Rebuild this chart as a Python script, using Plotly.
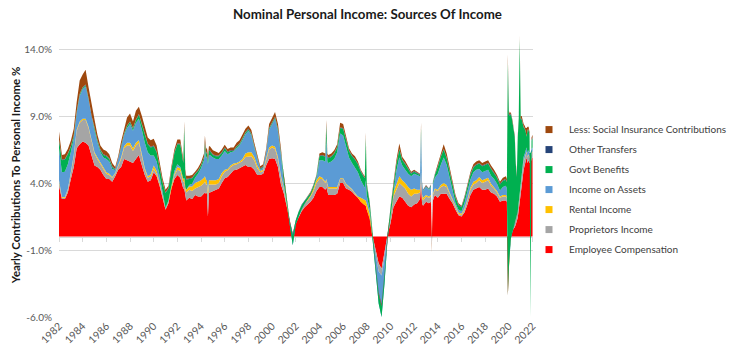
import plotly.graph_objects as go

# ---------------- data (percentage points) ----------------
dates = [
    "1982-01", "1982-04", "1982-07", "1982-10",
    "1983-01", "1983-04", "1983-07", "1983-10",
    "1984-01", "1984-04", "1984-07", "1984-10",
    "1985-01", "1985-04", "1985-07", "1985-10",
    "1986-01", "1986-04", "1986-07", "1986-10",
    "1987-01", "1987-04", "1987-07", "1987-10",
    "1988-01", "1988-04", "1988-07", "1988-10",
    "1989-01", "1989-04", "1989-07", "1989-10",
    "1990-01", "1990-04", "1990-07", "1990-10",
    "1991-01", "1991-04", "1991-07", "1991-10",
    "1992-01", "1992-04", "1992-07", "1992-08", "1992-09", "1992-10",
    "1993-01", "1993-04", "1993-07", "1993-10",
    "1994-01", "1994-04", "1994-05", "1994-06", "1994-07", "1994-08", "1994-09", "1994-10",
    "1995-01", "1995-04", "1995-07", "1995-10",
    "1996-01", "1996-04", "1996-07", "1996-10",
    "1997-01", "1997-04", "1997-07", "1997-10",
    "1998-01", "1998-04", "1998-07", "1998-10",
    "1999-01", "1999-04", "1999-07", "1999-10",
    "2000-01", "2000-04", "2000-07", "2000-10",
    "2001-01", "2001-04", "2001-07", "2001-10",
    "2002-01", "2002-04", "2002-07", "2002-10",
    "2003-01", "2003-04", "2003-07", "2003-10",
    "2004-01", "2004-04", "2004-07", "2004-08", "2004-09", "2004-10",
    "2005-01", "2005-04", "2005-07", "2005-10",
    "2006-01", "2006-04", "2006-07", "2006-10",
    "2007-01", "2007-04", "2007-07", "2007-10", "2007-11", "2007-12",
    "2008-01", "2008-04", "2008-07", "2008-10",
    "2009-01", "2009-04", "2009-07", "2009-10",
    "2010-01", "2010-04", "2010-07", "2010-10",
    "2011-01", "2011-04", "2011-07", "2011-10",
    "2012-01", "2012-04", "2012-07", "2012-08", "2012-09", "2012-10",
    "2013-01", "2013-04", "2013-06", "2013-07", "2013-08", "2013-10",
    "2014-01", "2014-04", "2014-07", "2014-10",
    "2015-01", "2015-04", "2015-07", "2015-10",
    "2016-01", "2016-04", "2016-07", "2016-10",
    "2017-01", "2017-04", "2017-07", "2017-10",
    "2018-01", "2018-04", "2018-07", "2018-10",
    "2019-01", "2019-04", "2019-07", "2019-10", "2019-11", "2019-12",
    "2020-01", "2020-02", "2020-03", "2020-04", "2020-05", "2020-06",
    "2020-07", "2020-08", "2020-09", "2020-10", "2020-11", "2020-12",
    "2021-01", "2021-02", "2021-03", "2021-04", "2021-05", "2021-06",
    "2021-07", "2021-08", "2021-09", "2021-10", "2021-11", "2021-12",
    "2022-01",
]

employee_comp = [
    3.8, 2.8, 2.8, 3.3,
    4.3, 5.2, 6.6, 6.9,
    7.1, 7.0, 6.8, 6.0,
    5.3, 5.2, 5.0, 4.6,
    4.3, 4.3, 4.1, 4.5,
    5.0, 5.2, 5.8, 5.7,
    5.6, 5.5, 5.8, 6.1,
    5.3, 4.6, 4.1, 4.2,
    4.8, 4.5, 3.8, 2.9,
    2.0, 2.5, 3.6, 4.3,
    4.6, 4.4, 3.6, 3.6, 3.0, 2.7,
    2.9, 2.8, 3.1, 3.0,
    3.0, 3.2, 3.3, 3.2, 3.3, 1.5, 3.3, 3.3,
    3.4, 3.5, 3.6, 4.0,
    4.35, 4.45, 4.7, 4.95,
    5.0, 5.1, 5.2, 5.35,
    5.2, 5.2, 5.0, 4.6,
    4.6, 4.7, 5.3, 5.8,
    5.85, 5.8, 5.2, 3.9,
    3.2, 2.2, 1.0, 0.2,
    1.0, 1.5, 1.9, 2.2,
    2.4, 2.6, 2.9, 3.4,
    3.7, 3.7, 3.5, 3.7, 3.4, 3.1,
    3.1, 3.1, 3.2, 4.0,
    4.0, 3.6, 3.5, 3.35,
    3.1, 2.9, 2.6, 2.4, 2.35, 2.3,
    2.0, 1.4, 0.0, -1.0,
    -2.0, -2.4, -1.2, 0.1,
    1.0, 2.2, 2.6, 3.0,
    2.9, 2.6, 2.3, 2.2,
    2.4, 2.5, 2.8, 4.0, 2.5, 2.3,
    2.6, 2.5, 2.6, 0.0, 2.7, 3.1,
    2.9, 3.2, 3.2, 3.2,
    2.8, 2.5, 2.0, 1.6,
    1.5, 1.8, 2.4, 3.1,
    3.5, 3.6, 3.7, 3.5,
    3.5, 3.6, 3.3, 3.2,
    3.0, 2.6, 2.7, 2.7, 2.6, -4.4,
    -1.5, -0.5, 0.0, 0.3, 0.5, 0.6, 0.7, 0.9, 1.1, 1.4, 2.0, 2.6,
    3.4, 4.0, 4.5, 5.0, 5.3, 5.6, 5.9, 5.5, 5.7, 5.5, 5.5, 5.8,
    5.9,
]

proprietors = [
    0.3, 0.1, 0.1, 0.2,
    0.4, 0.8, 1.3, 1.6,
    1.6, 1.7, 1.3, 1.1,
    0.9, 0.6, 0.4, 0.4,
    0.4, 0.3, 0.3, 0.2,
    0.3, 0.6, 0.8, 1.1,
    1.2, 0.9, 1.0, 0.9,
    0.7, 0.4, 0.3, 0.3,
    0.25, 0.2, 0.1, 0.05,
    0.0, 0.05, 0.1, 0.3,
    0.4, 0.5, 0.5, 0.5, 0.55, 0.6,
    0.6, 0.6, 0.5, 0.7,
    0.8, 0.8, 0.8, 0.7, 0.6, 1.6, 0.6, 0.6,
    0.5, 0.4, 0.4, 0.5,
    0.5, 0.5, 0.5, 0.4,
    0.4, 0.4, 0.45, 0.6,
    0.8, 0.8, 0.7, 0.5,
    0.2, 0.2, 0.4, 0.7,
    0.8, 0.75, 0.6, 0.5,
    0.3, 0.1, 0.0, 0.0,
    0.1, 0.2, 0.2, 0.3,
    0.3, 0.4, 0.5, 0.6,
    0.6, 0.6, 0.5, 0.5, 0.5, 0.5,
    0.5, 0.5, 0.4, 0.3,
    0.3, 0.3, 0.2, 0.15,
    0.1, 0.0, 0.0, 0.0, 0.0, 0.0,
    0.0, -0.1, -0.2, -0.4,
    -0.6, -0.5, -0.4, 0.1,
    0.4, 0.8, 0.9, 1.0,
    0.9, 1.0, 0.9, 0.8,
    0.8, 0.7, 0.5, 0.6, 0.45, 0.4,
    0.4, 0.4, 0.4, -0.3, 0.4, 0.4,
    0.5, 0.5, 0.6, 0.5,
    0.4, 0.2, 0.1, 0.1,
    0.1, 0.2, 0.3, 0.4,
    0.4, 0.4, 0.5, 0.5,
    0.6, 0.6, 0.5, 0.4,
    0.3, 0.3, 0.3, 0.3, 0.3, 0.0,
    -0.5, -0.2, 0.0, 0.1, 0.2, 0.3, 0.3, 0.4, 0.4, 0.5, 0.5, 0.5,
    0.6, 0.6, 0.6, 0.6, 0.5, 0.5, 0.4, 0.4, 0.4, 0.4, 0.4, 0.4,
    0.4,
]

rental = [
    0.1, 0.05, 0.05, 0.05,
    0.1, 0.1, 0.1, 0.1,
    0.1, 0.1, 0.1, 0.1,
    0.1, 0.1, 0.1, 0.1,
    0.1, 0.1, 0.05, 0.05,
    0.05, 0.1, 0.15, 0.2,
    0.2, 0.2, 0.2, 0.2,
    0.15, 0.1, 0.1, 0.15,
    0.25, 0.2, 0.15, 0.1,
    0.05, 0.05, 0.1, 0.1,
    0.2, 0.2, 0.2, 0.2, 0.2, 0.2,
    0.25, 0.35, 0.4, 0.4,
    0.4, 0.4, 0.4, 0.35, 0.3, 0.3, 0.3, 0.3,
    0.3, 0.3, 0.3, 0.25,
    0.15, 0.1, 0.1, 0.1,
    0.1, 0.1, 0.15, 0.25,
    0.3, 0.3, 0.25, 0.2,
    0.1, 0.1, 0.15, 0.15,
    0.15, 0.15, 0.15, 0.15,
    0.1, 0.05, 0.05, 0.05,
    0.1, 0.1, 0.15, 0.15,
    0.15, 0.2, 0.2, 0.2,
    0.2, 0.1, 0.1, 0.1, 0.1, 0.1,
    0.1, 0.1, 0.1, 0.05,
    0.05, 0.05, 0.05, 0.05,
    0.05, 0.1, 0.3, 0.4, 0.4, 0.4,
    0.45, 0.4, 0.1, 0.0,
    0.0, 0.0, 0.0, 0.05,
    0.2, 0.3, 0.4, 0.5,
    0.4, 0.4, 0.5, 0.5,
    0.4, 0.3, 0.2, 0.2, 0.2, 0.2,
    0.1, 0.1, 0.1, 0.0, 0.1, 0.1,
    0.1, 0.15, 0.2, 0.15,
    0.1, 0.1, 0.1, 0.1,
    0.1, 0.1, 0.1, 0.15,
    0.2, 0.2, 0.25, 0.2,
    0.2, 0.2, 0.15, 0.1,
    0.1, 0.1, 0.1, 0.1, 0.1, 0.0,
    0.0, 0.0, 0.05, 0.05, 0.05, 0.05, 0.05, 0.05, 0.05, 0.05, 0.05, 0.05,
    0.05, 0.05, 0.05, 0.05, 0.05, 0.05, 0.05, 0.05, 0.05, 0.05, 0.05, 0.05,
    0.05,
]

income_assets = [
    2.4, 1.85, 1.9, 1.85,
    1.5, 1.2, 1.2, 1.9,
    2.2, 2.4, 2.0, 1.7,
    1.6, 1.1, 0.8, 0.8,
    1.0, 0.9, 0.6, 0.2,
    0.4, 0.7, 0.8, 1.1,
    1.4, 1.3, 1.5, 1.6,
    1.8, 1.9, 1.8, 1.4,
    0.75, 0.7, 0.5, 0.3,
    0.1, 0.1, 0.1, 0.2,
    0.2, 0.1, 0.0, 0.1, 0.0, 0.0,
    0.1, 0.2, 0.4, 0.6,
    0.9, 1.3, 2.0, 1.6, 1.8, 2.0, 1.9, 1.9,
    1.7, 1.6, 1.5, 1.3,
    1.4, 1.1, 1.0, 0.9,
    1.1, 1.2, 1.4, 1.45,
    1.6, 1.25, 0.7, 0.45,
    0.1, 0.15, 0.4, 1.3,
    1.55, 2.1, 1.9, 1.55,
    0.3, -0.1, -0.2, -0.9,
    -0.3, -0.3, -0.2, -0.2,
    -0.1, -0.1, 0.0, 0.1,
    1.2, 1.3, 1.5, 3.0, 1.6, 1.8,
    1.9, 2.1, 2.6, 3.35,
    3.2, 2.8, 2.15, 1.95,
    1.9, 1.8, 1.3, 0.95, 0.9, 1.5,
    0.6, 0.3, -0.3, -1.4,
    -2.4, -3.1, -1.9, -0.5,
    0.0, 0.1, 1.0, 1.4,
    1.1, 1.0, 1.0, 1.0,
    1.1, 1.1, 1.0, 2.9, 0.8, 0.5,
    0.6, 0.5, 0.6, -0.3, 0.7, 0.8,
    1.2, 1.5, 1.9, 1.5,
    1.1, 0.6, 0.3, 0.2,
    0.2, 0.4, 0.6, 0.6,
    0.7, 0.8, 0.6, 0.6,
    0.6, 0.6, 0.6, 0.6,
    0.55, 0.45, 0.6, 0.7, 0.6, 0.0,
    -0.3, -0.2, -0.2, -0.3, -0.3, -0.3, -0.2, -0.2, -0.1, -0.1, 0.0, 0.0,
    0.1, 0.2, 0.2, 0.3, 0.3, 0.3, 0.3, 0.3, 0.3, 0.3, 0.3, 0.3,
    0.3,
]

govt_benefits = [
    0.6, 0.9, 0.9, 0.75,
    0.4, 0.2, 0.1, 0.1,
    0.1, 0.1, 0.1, 0.1,
    0.2, 0.15, 0.15, 0.2,
    0.2, 0.2, 0.15, 0.05,
    0.05, 0.1, 0.1, 0.15,
    0.15, 0.15, 0.2, 0.3,
    0.4, 0.6, 0.6, 0.6,
    0.7, 0.7, 0.6, 0.7,
    1.1, 0.9, 1.1, 1.35,
    1.5, 1.7, 1.2, 3.8, 1.0, 0.75,
    0.45, 0.4, 0.25, 0.2,
    0.2, 0.2, 0.5, 0.3, 0.3, 0.3, 0.3, 0.3,
    0.2, 0.2, 0.2, 0.2,
    0.2, 0.15, 0.1, 0.05,
    0.1, 0.1, 0.1, 0.1,
    0.1, 0.1, 0.1, 0.05,
    0.05, 0.05, 0.05, 0.1,
    0.1, 0.1, 0.15, 0.15,
    0.2, 0.25, 0.2, 0.75,
    0.3, 0.35, 0.3, 0.2,
    0.2, 0.15, 0.2, 0.2,
    0.3, 0.35, 0.35, 1.0, 0.35, 0.35,
    0.35, 0.4, 0.35, 0.4,
    0.5, 0.5, 0.5, 0.5,
    0.6, 0.6, 0.65, 0.7, 0.7, 3.2,
    0.8, 0.5, 0.4, 0.6,
    0.7, 0.8, 0.7, 0.3,
    0.5, 0.45, 0.5, 0.6,
    0.4, 0.4, 0.3, 0.2,
    0.15, 0.15, 0.1, 0.4, 0.05, 0.05,
    0.05, 0.05, 0.1, 0.0, 0.1, 0.2,
    0.5, 0.6, 0.6, 0.5,
    0.5, 0.5, 0.4, 0.35,
    0.3, 0.35, 0.35, 0.35,
    0.35, 0.35, 0.4, 0.45,
    0.45, 0.45, 0.5, 0.45,
    0.45, 0.45, 0.45, 0.45, 0.45, 17.4,
    11.4, 9.9, 9.3, 8.7, 8.0, 7.2, 6.6, 4.3, 3.0, 5.5, 6.2, 11.6,
    4.6, 3.9, 3.0, 2.2, 1.9, 1.4, 0.8, 1.7, 1.5, 1.3, -12.3, 0.6,
    0.7,
]

other_transfers = [
    0.05, 0.05, 0.05, 0.05,
    0.05, 0.05, 0.05, 0.05,
    0.05, 0.05, 0.05, 0.05,
    0.05, 0.05, 0.05, 0.05,
    0.05, 0.05, 0.05, 0.05,
    0.05, 0.05, 0.05, 0.05,
    0.05, 0.05, 0.05, 0.05,
    0.05, 0.05, 0.05, 0.05,
    0.05, 0.05, 0.05, 0.05,
    0.05, 0.05, 0.05, 0.05,
    0.05, 0.05, 0.05, 0.05, 0.05, 0.05,
    0.05, 0.05, 0.05, 0.05,
    0.05, 0.05, 0.05, 0.05, 0.05, 0.05, 0.05, 0.05,
    0.05, 0.05, 0.05, 0.05,
    0.05, 0.05, 0.05, 0.05,
    0.05, 0.05, 0.05, 0.05,
    0.05, 0.05, 0.05, 0.05,
    0.05, 0.05, 0.05, 0.05,
    0.05, 0.05, 0.05, 0.05,
    0.05, 0.05, 0.05, 0.05,
    0.05, 0.05, 0.05, 0.05,
    0.05, 0.05, 0.05, 0.05,
    0.05, 0.05, 0.05, 0.05, 0.05, 0.05,
    0.05, 0.05, 0.05, 0.05,
    0.05, 0.05, 0.05, 0.05,
    0.05, 0.05, 0.05, 0.05, 0.05, 0.05,
    0.05, 0.05, 0.0, 0.0,
    0.0, 0.0, 0.0, 0.0,
    0.05, 0.05, 0.05, 0.05,
    0.05, 0.05, 0.05, 0.05,
    0.05, 0.05, 0.05, 0.05, 0.05, 0.05,
    0.05, 0.05, 0.05, 0.0, 0.05, 0.05,
    0.05, 0.05, 0.05, 0.05,
    0.05, 0.05, 0.05, 0.05,
    0.05, 0.05, 0.05, 0.05,
    0.05, 0.05, 0.05, 0.05,
    0.05, 0.05, 0.05, 0.05,
    0.05, 0.05, 0.05, 0.05, 0.05, 0.1,
    0.1, 0.1, 0.05, 0.05, 0.05, 0.05, 0.05, 0.05, 0.05, 0.05, 0.05, 0.05,
    0.05, 0.05, 0.05, 0.05, 0.05, 0.05, 0.05, 0.05, 0.05, 0.05, 0.05, 0.05,
    0.05,
]

social_insurance = [
    0.6, 0.35, 0.35, 0.35,
    0.4, 0.5, 0.7, 1.0,
    0.95, 1.1, 0.8, 0.75,
    0.6, 0.4, 0.3, 0.35,
    0.35, 0.3, 0.25, 0.15,
    0.15, 0.35, 0.4, 0.6,
    0.6, 0.5, 0.65, 0.55,
    0.6, 0.55, 0.45, 0.5,
    0.5, 0.45, 0.35, 0.25,
    0.2, 0.15, 0.2, 0.2,
    0.3, 0.3, 0.25, 0.35, 0.25, 0.25,
    0.2, 0.2, 0.15, 0.2,
    0.2, 0.25, 0.5, 0.3, 0.3, 0.3, 0.3, 0.3,
    0.3, 0.3, 0.2, 0.2,
    0.2, 0.2, 0.2, 0.2,
    0.25, 0.25, 0.25, 0.25,
    0.25, 0.25, 0.2, 0.2,
    0.15, 0.15, 0.2, 0.3,
    0.3, 0.35, 0.35, 0.3,
    0.15, 0.0, 0.0, 0.0,
    0.0, 0.0, 0.0, 0.0,
    0.05, 0.05, 0.05, 0.05,
    0.15, 0.2, 0.2, 0.35, 0.2, 0.2,
    0.2, 0.2, 0.2, 0.35,
    0.3, 0.2, 0.15, 0.15,
    0.2, 0.15, 0.1, 0.1, 0.1, 0.3,
    0.1, 0.05, 0.0, 0.1,
    0.15, 0.15, 0.1, 0.0,
    0.05, 0.1, 0.25, 0.4,
    0.2, 0.2, 0.15, 0.1,
    0.1, 0.05, 0.05, 0.35, 0.05, 0.0,
    0.05, 0.0, 0.05, -0.6, 0.05, 0.05,
    0.25, 0.3, 0.35, 0.3,
    0.25, 0.15, 0.15, 0.1,
    0.05, 0.1, 0.1, 0.15,
    0.2, 0.2, 0.2, 0.2,
    0.2, 0.2, 0.2, 0.2,
    0.15, 0.15, 0.2, 0.2, 0.2, 0.5,
    0.2, 0.1, 0.1, 0.1, 0.1, 0.1, 0.1, 0.1, 0.1, 0.1, 0.1, 0.2,
    0.2, 0.2, 0.2, 0.2, 0.2, 0.2, 0.6, 0.2, 0.2, 0.2, 0.1, 0.2,
    0.2,
]

series_names = [
    "Employee Compensation",
    "Proprietors Income",
    "Rental Income",
    "Income on Assets",
    "Govt Benefits",
    "Other Transfers",
    "Less: Social Insurance Contributions",
]
series_colors = ["#FF0000", "#A5A5A5", "#FFC000", "#5B9BD5", "#00B050", "#264478", "#9E480E"]
series_values = [employee_comp, proprietors, rental, income_assets,
                 govt_benefits, other_transfers, social_insurance]

year_ticks = ["1982", "1984", "1986", "1988", "1990", "1992", "1994", "1996", "1998",
              "2000", "2002", "2004", "2006", "2008", "2010", "2012", "2014", "2016",
              "2018", "2020", "2022"]
y_ticks = [-6, -1, 4, 9, 14]
y_tick_labels = ["-6.0%", "-1.0%", "4.0%", "9.0%", "14.0%"]

for v in series_values:
    assert len(v) == len(dates), (len(v), len(dates))

# ---------------- figure ----------------
W, H = 735, 352
LEFT, RIGHT_EDGE = 59, 533          # plot area in pixels
paper_w = W - LEFT                  # right margin is 0, plot width set by domain
x_dom_end = (RIGHT_EDGE - LEFT) / paper_w

fig = go.Figure()
for name, vals, color in zip(series_names, series_values, series_colors):
    fig.add_trace(go.Scatter(
        x=dates, y=vals, name=name, stackgroup="one", mode="lines",
        line=dict(width=0, color=color), fillcolor=color, showlegend=False,
    ))

# legend entries (small squares, like the original)
for name, color in reversed(list(zip(series_names, series_colors))):
    fig.add_trace(go.Scatter(
        x=[None], y=[None], mode="markers", name=name, legendgroup=name,
        marker=dict(symbol="square", size=7, color=color),
    ))

# helper trace for the zero-line axis carrying the tick marks
fig.add_trace(go.Scatter(x=[dates[0]], y=[0], xaxis="x2", mode="markers",
                         marker=dict(opacity=0), showlegend=False, hoverinfo="skip"))

tick_dates = [y + "-01-01" for y in year_ticks]
x_range = ["1982-01-01", "2022-01-15"]
y_range = [-6, 15.2]

fig.update_layout(
    width=W, height=H,
    margin=dict(l=LEFT, r=0, t=33, b=35),
    paper_bgcolor="white", plot_bgcolor="white",
    font=dict(family="Lato, sans-serif", size=10, color="#595959"),
    title=dict(text="<b>Nominal Personal Income: Sources Of Income</b>",
               x=0.5, xanchor="center", y=1 - 14 / H, yanchor="middle",
               font=dict(size=13.3, color="#1a1a1a")),
    xaxis=dict(type="date", range=x_range, domain=[0, x_dom_end],
               tickvals=tick_dates, ticktext=year_ticks,
               tickangle=-45, showgrid=False, showline=False, ticks="",
               zeroline=False, automargin=False,
               tickfont=dict(size=10.5, color="#595959")),
    xaxis2=dict(type="date", range=x_range, domain=[0, x_dom_end],
                overlaying="x", anchor="free",
                position=(0 - y_range[0]) / (y_range[1] - y_range[0]),
                showline=True, linecolor="#d9d9d9", linewidth=1,
                ticks="outside", ticklen=4, tickcolor="#d9d9d9",
                tickvals=tick_dates, showticklabels=False, showgrid=False,
                automargin=False, layer="below traces"),
    yaxis=dict(range=y_range, tickvals=y_ticks, ticktext=y_tick_labels,
               showgrid=True, gridcolor="#d9d9d9", gridwidth=1, zeroline=False,
               showline=False, ticks="", ticklabelstandoff=6, automargin=False,
               tickfont=dict(size=10, color="#595959"),
               title=dict(text="<b>Yearly Contributions To Personal Income %</b>",
                          font=dict(size=11.4, color="#1a1a1a"), standoff=1)),
    legend=dict(x=(529 - LEFT) / paper_w, y=0.711, xanchor="left", yanchor="top",
                traceorder="grouped", tracegroupgap=1, itemwidth=30,
                font=dict(size=10, color="#404040"), bgcolor="rgba(0,0,0,0)"),
    showlegend=True,
)

fig.write_html("out.html")
